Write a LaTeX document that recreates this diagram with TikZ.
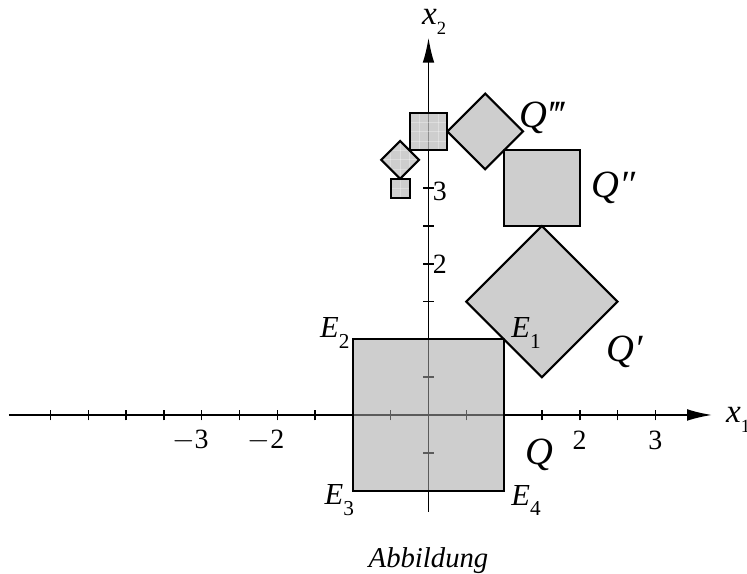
\documentclass[tikz,border=0pt]{standalone}
\usepackage{fontspec}
\setmainfont{Liberation Serif}
\usetikzlibrary{arrows.meta}
\newcommand{\sublab}[2]{\textit{#1}\raisebox{-0.35em}{\fontsize{8}{9}\selectfont #2}}
\begin{document}
\begin{tikzpicture}[x=1cm,y=1cm,
  axis/.style={line width=0.6pt,-{Latex[length=9.4pt,width=4.4pt]}},
  tickline/.style={line width=0.6pt},
  shapebox/.style={draw=black,line width=0.8pt,fill=black!35,fill opacity=0.55},
  gridline/.style={white,opacity=0.3,line width=0.3pt},
  ticklab/.style={inner sep=0pt,font=\fontsize{10.5}{12}\selectfont},
  qlab/.style={font=\fontsize{14.5}{16}\selectfont\itshape,inner sep=0pt},
  elab/.style={font=\fontsize{11.5}{13}\selectfont,inner sep=0pt}]
\useasboundingbox (-5.668,-2.103) rectangle (4.213,5.489);
% axes
\coordinate (xs) at (-5.55,0);
\coordinate (xe) at (3.75,0);
\coordinate (ys) at (0,-1.28);
\coordinate (ye) at (0,4.99);
\draw[axis] (xs) -- (xe);
\draw[axis] (ys) -- (ye);
\foreach \t in {-5,-4.5,...,3} \draw[tickline] (\t,-0.07) -- (\t,0.07);
\foreach \t in {-1,-0.5,...,4} \draw[tickline] (-0.07,\t) -- (0.07,\t);
% tick labels
\node[ticklab] (lm3) at (-3,-0.34) {\llap{$-$}3};
\node[ticklab] (lm2) at (-2,-0.34) {\llap{$-$}2};
\node[ticklab] (l2) at (2,-0.34) {2};
\node[ticklab] (l3) at (3,-0.34) {3};
\node[ticklab,anchor=west] (ly2) at (0.05,2) {2};
\node[ticklab,anchor=west] (ly3) at (0.05,2.96) {3};
\node[font=\fontsize{12.5}{14}\selectfont,inner sep=0pt,anchor=west] (x1) at (3.93,-0.06) {\textit{x}\raisebox{-0.3em}{\fontsize{7}{8}\selectfont 1}};
\node[font=\fontsize{12.5}{14}\selectfont,inner sep=0pt,anchor=west] (x2) at (-0.09,5.2) {\textit{x}\raisebox{-0.3em}{\fontsize{7}{8}\selectfont 2}};
% shapes
\draw[shapebox] (-1,-1) rectangle (1,1);
\draw[shapebox] (0.5,1.5) -- (1.5,2.5) -- (2.5,1.5) -- (1.5,0.5) -- cycle;
\draw[shapebox] (1,2.5) rectangle (2,3.5);
\draw[shapebox] (0.25,3.75) -- (0.75,4.25) -- (1.25,3.75) -- (0.75,3.25) -- cycle;
% small square with grid
\begin{scope}
\clip (-0.25,3.5) rectangle (0.25,4);
\fill[black!35,opacity=0.55] (-0.25,3.5) rectangle (0.25,4);
\foreach \g in {-0.125,0,0.125} \draw[gridline] (\g,3.5) -- (\g,4);
\foreach \g in {3.625,3.75,3.875} \draw[gridline] (-0.25,\g) -- (0.25,\g);
\end{scope}
\draw[line width=0.8pt] (-0.25,3.5) rectangle (0.25,4);
% small diamond with grid
\begin{scope}
\clip (-0.625,3.375) -- (-0.375,3.625) -- (-0.125,3.375) -- (-0.375,3.125) -- cycle;
\fill[black!35,opacity=0.55] (-0.625,3.375) -- (-0.375,3.625) -- (-0.125,3.375) -- (-0.375,3.125) -- cycle;
\foreach \g in {-0.5,-0.375,-0.25} \draw[gridline] (\g,3.1) -- (\g,3.65);
\foreach \g in {3.25,3.375,3.5} \draw[gridline] (-0.65,\g) -- (-0.1,\g);
\end{scope}
\draw[line width=0.8pt] (-0.625,3.375) -- (-0.375,3.625) -- (-0.125,3.375) -- (-0.375,3.125) -- cycle;
% smallest square with grid
\begin{scope}
\clip (-0.5,2.875) rectangle (-0.25,3.125);
\fill[black!35,opacity=0.55] (-0.5,2.875) rectangle (-0.25,3.125);
\draw[gridline] (-0.375,2.875) -- (-0.375,3.125);
\draw[gridline] (-0.5,3) -- (-0.25,3);
\end{scope}
\draw[line width=0.8pt] (-0.5,2.875) rectangle (-0.25,3.125);
% labels
\node[elab] (E1) at (1.29,1.08) {\sublab{E}{1}};
\node[elab] (E2) at (-1.24,1.08) {\sublab{E}{2}};
\node[elab] (E3) at (-1.18,-1.13) {\sublab{E}{3}};
\node[elab] (E4) at (1.29,-1.13) {\sublab{E}{4}};
\node[qlab] (Q) at (1.47,-0.53) {Q};
\node[qlab] (Q1) at (2.6,0.83) {Q′};
\node[qlab] (Q2) at (2.45,3.0) {Q″};
\node[qlab] (Q3) at (1.5,3.93) {Q‴};
\node[font=\fontsize{10.8}{12}\selectfont\itshape,inner sep=0pt] (cap) at (0,-1.92) {Abbildung};
\end{tikzpicture}
\end{document}
